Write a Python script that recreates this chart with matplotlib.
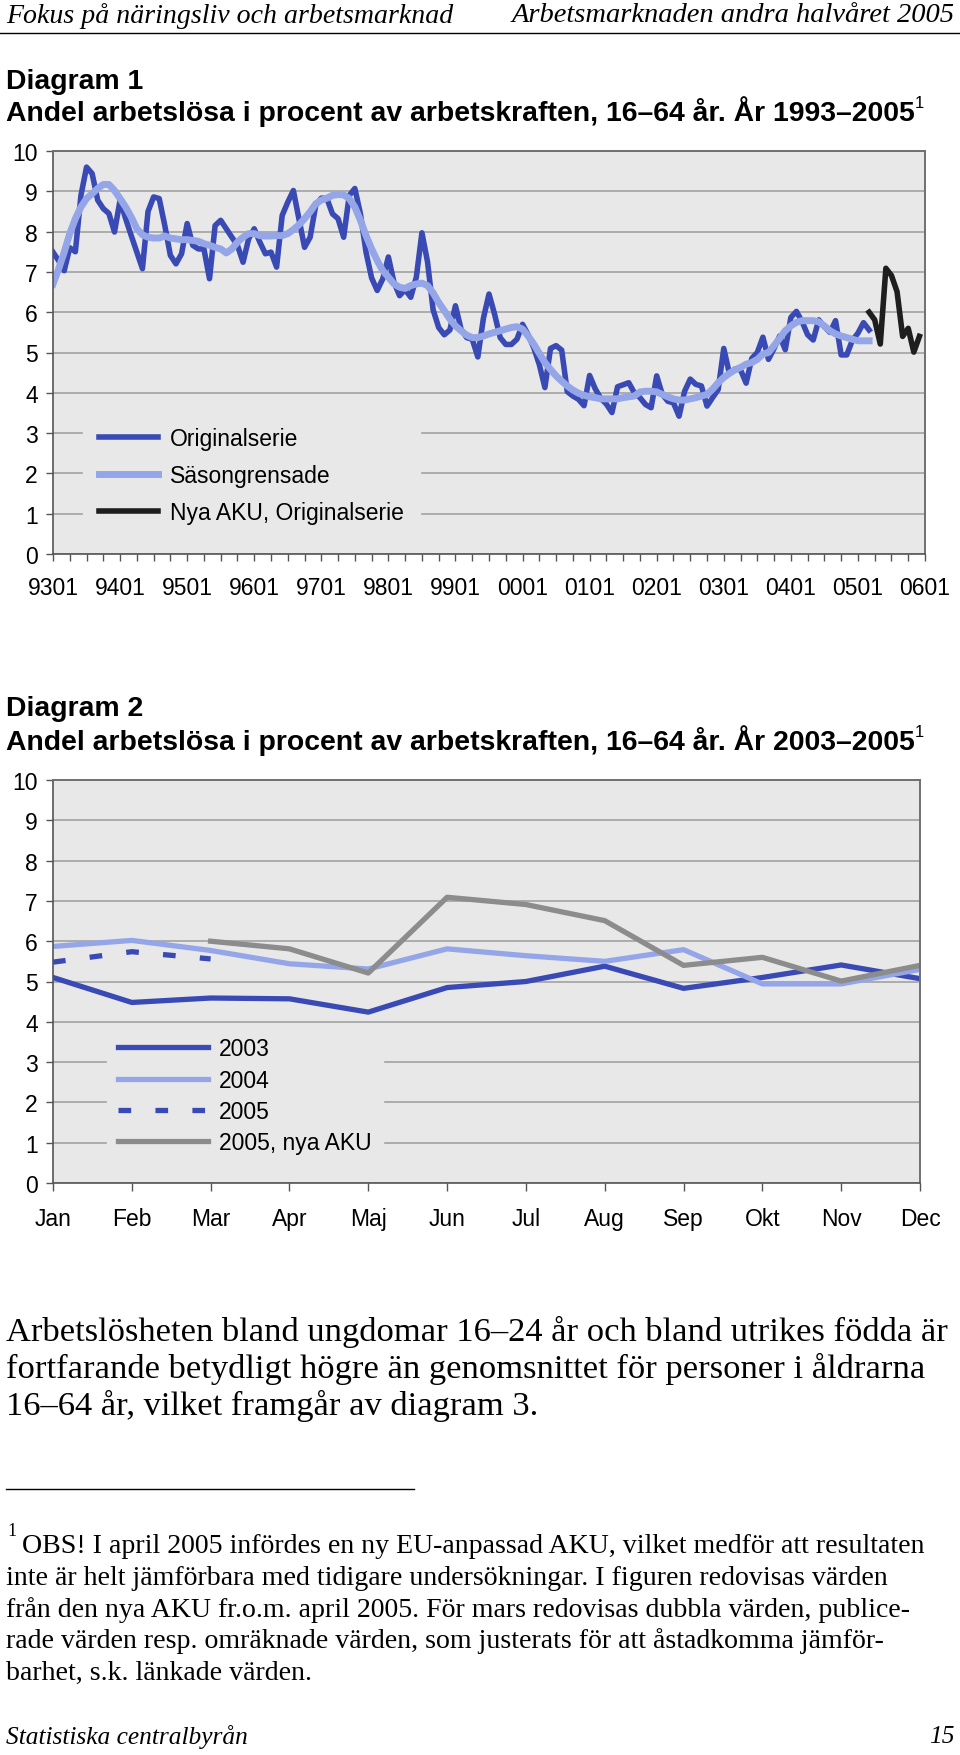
import matplotlib
matplotlib.use('Agg')
import numpy as np
import matplotlib.pyplot as plt
from matplotlib.ticker import MultipleLocator

W, H = 960, 1756

# ---- Diagram 1: monthly values 9301-0512 ----
orig_9301_0212 = [
    7.49, 7.28, 7.03, 7.6, 7.5, 8.9, 9.6, 9.44, 8.78, 8.57, 8.45, 7.99,
    8.78, 8.32, 7.9, 7.49, 7.08, 8.5, 8.86, 8.82, 8.15, 7.41, 7.2, 7.45,
    8.2, 7.66, 7.57, 7.57, 6.83, 8.15, 8.28, 8.07, 7.86, 7.66, 7.24, 7.82,
    8.07, 7.74, 7.45, 7.49, 7.12, 8.4, 8.73, 9.02, 8.32, 7.61, 7.86, 8.65,
    8.83, 8.82, 8.44, 8.32, 7.86, 8.9, 9.07, 8.44, 7.49, 6.85, 6.54, 6.83,
    7.37, 6.74, 6.41, 6.56, 6.37, 6.87, 7.97, 7.25, 6.06, 5.62, 5.44, 5.56,
    6.16, 5.58, 5.37, 5.33, 4.89, 5.85, 6.45, 5.95, 5.37, 5.2, 5.2, 5.33,
    5.7, 5.44, 5.12, 4.7, 4.13, 5.1, 5.17, 5.06, 4.03, 3.92, 3.84, 3.68,
    4.43, 4.1, 3.86, 3.72, 3.51, 4.15, 4.2, 4.25, 4.0, 3.88, 3.71, 3.63,
    4.42, 3.96, 3.79, 3.75, 3.42, 4.04, 4.34, 4.21, 4.17, 3.67, 3.88, 4.08,
]
sasong = [
    6.7, 7.07, 7.49, 7.95, 8.32, 8.61, 8.82, 8.94, 9.07, 9.17, 9.17, 9.02,
    8.82, 8.61, 8.36, 8.07, 7.92, 7.86, 7.84, 7.84, 7.89, 7.84, 7.82, 7.8,
    7.8, 7.78, 7.76, 7.7, 7.66, 7.61, 7.57, 7.47, 7.57, 7.74, 7.86, 7.95,
    7.95, 7.9, 7.89, 7.89, 7.9, 7.9, 7.95, 8.05, 8.17, 8.32, 8.49, 8.69,
    8.78, 8.83, 8.9, 8.92, 8.91, 8.82, 8.61, 8.28, 7.9, 7.57, 7.28, 7.03,
    6.87, 6.7, 6.62, 6.59, 6.66, 6.7, 6.72, 6.66, 6.48, 6.24, 6.04, 5.83,
    5.66, 5.54, 5.43, 5.37, 5.37, 5.41, 5.46, 5.5, 5.54, 5.58, 5.62, 5.64,
    5.58, 5.41, 5.21, 4.98, 4.75, 4.58, 4.42, 4.29, 4.17, 4.07, 3.99, 3.94,
    3.9, 3.88, 3.85, 3.85, 3.85, 3.85, 3.88, 3.9, 3.92, 4.02, 4.04, 4.04,
    4.02, 3.96, 3.9, 3.85, 3.82, 3.82, 3.85, 3.88, 3.92, 3.96, 4.09, 4.25,
    4.38, 4.48, 4.57, 4.63, 4.71, 4.75, 4.83, 4.96, 5.0, 5.17, 5.35, 5.54,
    5.66, 5.75, 5.79, 5.79, 5.79, 5.76, 5.66, 5.54, 5.46, 5.41, 5.37, 5.33,
    5.29, 5.29, 5.29,
]
year_labels = ['9301', '9401', '9501', '9601', '9701', '9801', '9901',
               '0001', '0101', '0201', '0301', '0401', '0501', '0601']

# ---- Diagram 2: per month ----
months = ['Jan', 'Feb', 'Mar', 'Apr', 'Maj', 'Jun', 'Jul', 'Aug', 'Sep',
          'Okt', 'Nov', 'Dec']
v2003 = [5.1, 4.48, 4.59, 4.57, 4.24, 4.85, 5.0, 5.38, 4.83, 5.1, 5.41, 5.07]
v2004 = [5.87, 6.02, 5.77, 5.44, 5.31, 5.81, 5.64, 5.5, 5.79, 4.94, 4.94, 5.3]
v2005 = [5.48, 5.74, 5.56]
v2005_nya = [6.0, 5.81, 5.21, 7.09, 6.91, 6.51, 5.4, 5.6, 5.01, 5.4]  # Mar-Dec

orig = orig_9301_0212 + v2003 + v2004 + v2005

DARK = '#3a4ab4'
LIGHT = '#95a6e8'
BLACK = '#1e1e1e'
GRAY = '#8c8c8c'
BG = '#e8e8e8'
GRID = '#a2a2a2'

SANS = ['Liberation Sans', 'DejaVu Sans']
SERIF = ['Liberation Serif', 'DejaVu Serif']


def px_axes(fig, left, top, right, bottom):
    return fig.add_axes([left / W, 1 - bottom / H, (right - left) / W, (bottom - top) / H])


def ftext(fig, x, y, s, **kw):
    fig.text(x / W, 1 - y / H, s, **kw)


def style_axes(ax):
    ax.set_facecolor(BG)
    ax.set_ylim(0, 10)
    ax.yaxis.set_major_locator(MultipleLocator(1))
    ax.grid(axis='y', color=GRID, lw=1.2)
    ax.set_axisbelow(True)
    for side in ['left', 'bottom']:
        ax.spines[side].set_color('#555555')
        ax.spines[side].set_linewidth(1.2)
    for side in ['top', 'right']:
        ax.spines[side].set_color('#707070')
        ax.spines[side].set_linewidth(1.4)
    ax.tick_params(axis='both', which='both', direction='out', length=5, width=1,
                   color='#555555', labelsize=16.5)
    ax.tick_params(axis='y', pad=6)
    ax.tick_params(axis='x', pad=11)
    for lab in ax.get_xticklabels() + ax.get_yticklabels():
        lab.set_family(SANS)


fig = plt.figure(figsize=(W / 100, H / 100), dpi=100)

# header
ftext(fig, 6, 16, 'Fokus på näringsliv och arbetsmarknad', family=SERIF,
      style='italic', fontsize=20.1, va='center', ha='left')
ftext(fig, 955, 16, 'Arbetsmarknaden andra halvåret 2005', family=SERIF,
      style='italic', fontsize=20.5, va='center', ha='right')
fig.add_artist(plt.Line2D([0, 1], [1 - 34 / H, 1 - 34 / H], color='black', lw=1))

# ---- Diagram 1 ----
ftext(fig, 6, 82, 'Diagram 1', family=SANS, weight='bold', fontsize=20.4, va='center')
ftext(fig, 6, 112, 'Andel arbetslösa i procent av arbetskraften, 16–64 år. År 1993–2005',
      family=SANS, weight='bold', fontsize=20.4, va='center')
ftext(fig, 915, 104, '1', family=SANS, fontsize=12, va='center')

ax1 = px_axes(fig, 53, 152, 925, 555)
x_orig = np.arange(len(orig))
x_nya = np.arange(len(v2005_nya)) + len(orig) - 1
ax1.plot(x_orig, orig, color=DARK, lw=4.0, label='Originalserie')
ax1.plot(np.arange(len(sasong)), sasong, color=LIGHT, lw=5.0, label='Säsongrensade')
ax1.plot(x_nya, v2005_nya, color=BLACK, lw=4.0, label='Nya AKU, Originalserie')
ax1.set_xlim(0, 156)
ax1.set_xticks(np.arange(0, 157, 12))
ax1.set_xticklabels(year_labels)
ax1.xaxis.set_minor_locator(MultipleLocator(3))
style_axes(ax1)
ax1.legend(loc='upper left', bbox_to_anchor=(0.034, 0.355), borderaxespad=0,
           frameon=True, facecolor=BG, edgecolor=BG, framealpha=1,
           fancybox=False, prop={'family': SANS, 'size': 16.5},
           handlelength=2.6, handletextpad=0.5, labelspacing=0.62,
           borderpad=0.7)

# ---- Diagram 2 ----
ftext(fig, 6, 709, 'Diagram 2', family=SANS, weight='bold', fontsize=20.4, va='center')
ftext(fig, 6, 741, 'Andel arbetslösa i procent av arbetskraften, 16–64 år. År 2003–2005',
      family=SANS, weight='bold', fontsize=20.4, va='center')
ftext(fig, 915, 733, '1', family=SANS, fontsize=12, va='center')

ax2 = px_axes(fig, 53, 781, 920, 1184)
xm = np.arange(len(months))
ax2.plot(xm, v2003, color=DARK, lw=3.8, label='2003')
ax2.plot(xm, v2004, color=LIGHT, lw=3.8, label='2004')
ax2.plot(xm[:len(v2005)], v2005, color=DARK, lw=3.8, dashes=(2.4, 4.6),
         dash_capstyle='butt', label='2005')
ax2.plot(xm[2:2 + len(v2005_nya)], v2005_nya, color=GRAY, lw=3.8, label='2005, nya AKU')
ax2.set_xlim(0, 11)
ax2.set_xticks(xm)
ax2.set_xticklabels(months)
style_axes(ax2)
ax2.tick_params(axis='x', length=6)
ax2.legend(loc='upper left', bbox_to_anchor=(0.062, 0.39), borderaxespad=0,
           frameon=True, facecolor=BG, edgecolor=BG, framealpha=1,
           fancybox=False, prop={'family': SANS, 'size': 16.5},
           handlelength=3.9, handletextpad=0.5, labelspacing=0.36,
           borderpad=0.5)

# ---- body text ----
body = ['Arbetslösheten bland ungdomar 16–24 år och bland utrikes födda är',
        'fortfarande betydligt högre än genomsnittet för personer i åldrarna',
        '16–64 år, vilket framgår av diagram 3.']
for i, line in enumerate(body):
    ftext(fig, 6, 1332 + i * 37, line, family=SERIF, fontsize=24.8, va='center')

fig.add_artist(plt.Line2D([6 / W, 414 / W], [1 - 1490 / H, 1 - 1490 / H], color='black', lw=1))

ftext(fig, 7, 1531, '1', family=SERIF, fontsize=13, va='center')
notes = ['OBS! I april 2005 infördes en ny EU-anpassad AKU, vilket medför att resultaten',
         'inte är helt jämförbara med tidigare undersökningar. I figuren redovisas värden',
         'från den nya AKU fr.o.m. april 2005. För mars redovisas dubbla värden, publice-',
         'rade värden resp. omräknade värden, som justerats för att åstadkomma jämför-',
         'barhet, s.k. länkade värden.']
for i, line in enumerate(notes):
    ftext(fig, 22 if i == 0 else 6, 1547 + i * 31.5, line, family=SERIF, fontsize=20.1,
          va='center')

ftext(fig, 6, 1737, 'Statistiska centralbyrån', family=SERIF, style='italic',
      fontsize=18.3, va='center')
ftext(fig, 955, 1737, '15', family=SERIF, style='italic', fontsize=18.3, va='center', ha='right')

fig.savefig('out.png', dpi=100)
